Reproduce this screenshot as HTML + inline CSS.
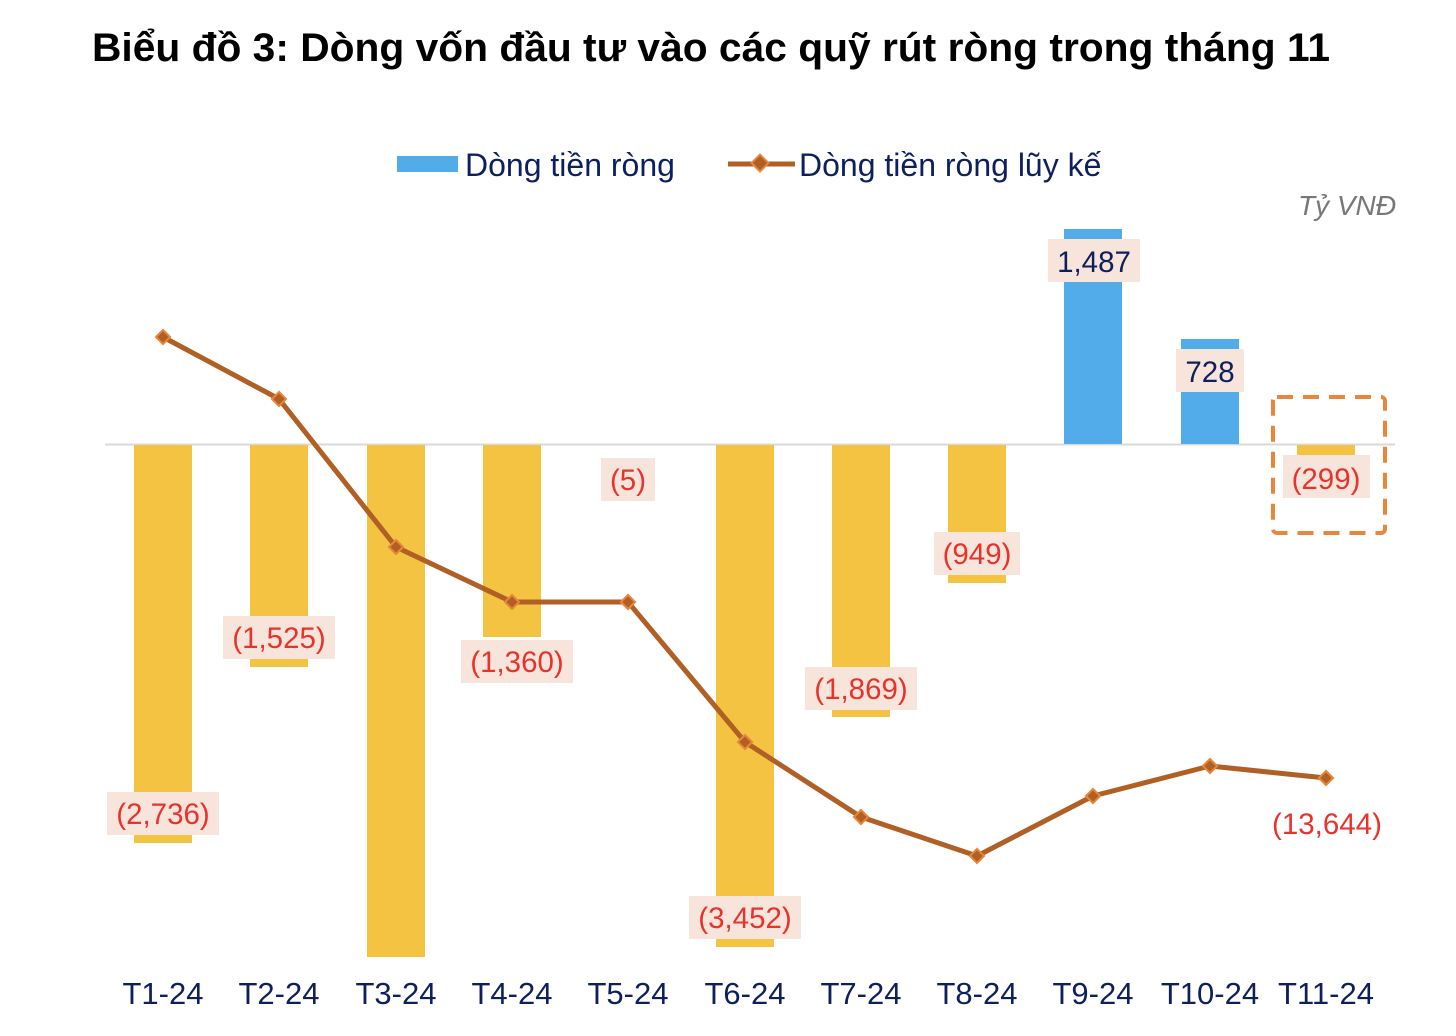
<!DOCTYPE html>
<html><head><meta charset="utf-8"><style>
html,body{margin:0;padding:0;background:#fff}
svg{display:block}
text{font-family:"Liberation Sans",Arial,sans-serif}
</style></head><body>
<svg width="1456" height="1036" viewBox="0 0 1456 1036" xmlns="http://www.w3.org/2000/svg">
<text x="92" y="61" font-size="40" font-weight="bold" fill="#000" textLength="1238" lengthAdjust="spacingAndGlyphs">Biểu đồ 3: Dòng vốn đầu tư vào các quỹ rút ròng trong tháng 11</text>
<rect x="397" y="156" width="61" height="16" fill="#52ace9"/>
<text x="465" y="176" font-size="32" fill="#0d1f5c">Dòng tiền ròng</text>
<line x1="728" y1="164" x2="795" y2="164" stroke="#b05f25" stroke-width="5"/>
<rect x="754" y="157" width="12" height="12" fill="#b05f25" stroke="#e8873a" stroke-width="2" transform="rotate(45 760 163)"/>
<text x="799" y="176" font-size="32" fill="#0d1f5c">Dòng tiền ròng lũy kế</text>
<text x="1396" y="215" text-anchor="end" font-size="28" font-style="italic" fill="#777">Tỷ VNĐ</text>
<line x1="105" y1="444.5" x2="1395" y2="444.5" stroke="#d9d9d9" stroke-width="2"/>
<g fill="#f5c342">
<rect x="134" y="445" width="58" height="398"/>
<rect x="250" y="445" width="58" height="222"/>
<rect x="367" y="445" width="58" height="512"/>
<rect x="483" y="445" width="58" height="192"/>
<rect x="716" y="445" width="58" height="502"/>
<rect x="832" y="445" width="58" height="272"/>
<rect x="948" y="445" width="58" height="138"/>
<rect x="1297" y="445" width="58" height="10"/>
</g>
<g fill="#52ace9">
<rect x="1064" y="229" width="58" height="215"/>
<rect x="1181" y="339" width="58" height="105"/>
</g>
<polyline points="163,337 279,399 396,547 512,602 628,602 745,742 861,817 977,856 1093,796 1210,766 1326,778" fill="none" stroke="#b05f25" stroke-width="5" stroke-linejoin="round"/>
<g fill="#b05f25" stroke="#e8873a" stroke-width="2">
<rect x="158" y="332" width="10" height="10" transform="rotate(45 163 337)"/>
<rect x="274" y="394" width="10" height="10" transform="rotate(45 279 399)"/>
<rect x="391" y="542" width="10" height="10" transform="rotate(45 396 547)"/>
<rect x="507" y="597" width="10" height="10" transform="rotate(45 512 602)"/>
<rect x="623" y="597" width="10" height="10" transform="rotate(45 628 602)"/>
<rect x="740" y="737" width="10" height="10" transform="rotate(45 745 742)"/>
<rect x="856" y="812" width="10" height="10" transform="rotate(45 861 817)"/>
<rect x="972" y="851" width="10" height="10" transform="rotate(45 977 856)"/>
<rect x="1088" y="791" width="10" height="10" transform="rotate(45 1093 796)"/>
<rect x="1205" y="761" width="10" height="10" transform="rotate(45 1210 766)"/>
<rect x="1321" y="773" width="10" height="10" transform="rotate(45 1326 778)"/>
</g>
<g fill="#f7e4da">
<rect x="107" y="792" width="112" height="43"/>
<rect x="223" y="616" width="112" height="43"/>
<rect x="461" y="640" width="112" height="43"/>
<rect x="601" y="458" width="54" height="43"/>
<rect x="689" y="896" width="112" height="43"/>
<rect x="805" y="667" width="112" height="43"/>
<rect x="934" y="532" width="86" height="43"/>
<rect x="1048" y="239" width="92" height="43"/>
<rect x="1176" y="349" width="68" height="43"/>
<rect x="1283" y="455" width="87" height="43"/>
</g>
<g font-size="29.5" text-anchor="middle" fill="#e8322b">
<text x="163" y="824">(2,736)</text>
<text x="279" y="648">(1,525)</text>
<text x="517" y="672">(1,360)</text>
<text x="628" y="490">(5)</text>
<text x="745" y="928">(3,452)</text>
<text x="861" y="699">(1,869)</text>
<text x="977" y="564">(949)</text>
<text x="1326" y="489">(299)</text>
<text x="1327" y="834">(13,644)</text>
</g>
<g font-size="29.5" text-anchor="middle" fill="#0d1f5c">
<text x="1094" y="272">1,487</text>
<text x="1210" y="382">728</text>
</g>
<rect x="1273" y="397" width="112" height="136" rx="4" fill="none" stroke="#e8873a" stroke-width="4" stroke-dasharray="16,10"/>
<g font-size="31" text-anchor="middle" fill="#0d1f5c">
<text x="163" y="1004">T1-24</text>
<text x="279" y="1004">T2-24</text>
<text x="396" y="1004">T3-24</text>
<text x="512" y="1004">T4-24</text>
<text x="628" y="1004">T5-24</text>
<text x="745" y="1004">T6-24</text>
<text x="861" y="1004">T7-24</text>
<text x="977" y="1004">T8-24</text>
<text x="1093" y="1004">T9-24</text>
<text x="1210" y="1004">T10-24</text>
<text x="1326" y="1004">T11-24</text>
</g>
</svg>
</body></html>
